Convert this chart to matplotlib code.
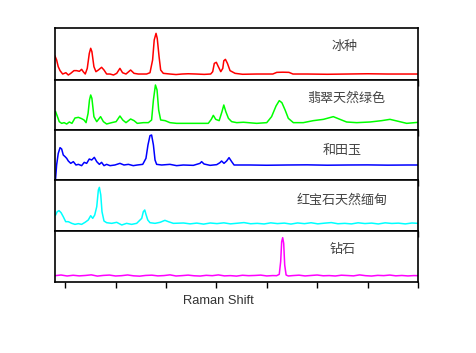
import matplotlib
matplotlib.use("Agg")
import matplotlib.pyplot as plt

plt.rcParams['font.family'] = ['Noto Sans CJK SC', 'DejaVu Sans']

# Raman spectra of five gem materials, wavenumber (cm^-1) vs. relative intensity
names = ["冰种", "翡翠天然绿色", "和田玉", "红宝石天然缅甸", "钻石"]
colors = ["#ff0000", "#00ff00", "#0000ff", "#00ffff", "#ff00ff"]

ice_x = [200, 208, 216, 225, 238, 254, 266, 278, 294, 307, 321, 332, 340, 350, 360,
         370, 377, 383, 393, 403, 415, 431, 443, 456, 473, 490, 506, 522, 535, 552,
         575, 592, 613, 654, 671, 684, 692, 701, 707, 716, 724, 737, 770, 800, 830,
         860, 900, 940, 972, 982, 990, 1000, 1010, 1022, 1032, 1037, 1045, 1055,
         1068, 1093, 1130, 1200, 1280, 1300, 1330, 1360, 1380, 1450, 1550, 1650,
         1750, 1850, 1950, 2000]
ice_y = [46, 38.5, 25.6, 18, 11.5, 14, 9.6, 12.8, 18, 18, 16.7, 20.5, 16, 11.5, 22.4,
         51, 61, 54.5, 25.6, 16, 19.2, 24.4, 19.2, 11.5, 11.5, 9.6, 12.8, 22.4, 14, 11.5,
         19.2, 12.8, 11.5, 11.5, 14, 38.5, 77, 89.7, 80, 45, 19.2, 12.8, 11.5, 10.5, 11.5,
         12, 11.5, 10.8, 11.5, 16, 32, 34, 25.6, 16, 22.4, 37, 39.7, 32, 18, 12.8, 11,
         11.5, 11.5, 14.7, 15, 14.7, 11.5, 11.5, 11, 11.5, 12, 11.5, 11.5, 11.5]

jade_x = [203, 211, 221, 233, 245, 258, 271, 284, 299, 316, 332, 344, 354, 364, 371,
          377, 383, 393, 407, 426, 440, 456, 481, 503, 522, 536, 552, 575, 592, 608,
          638, 663, 679, 688, 698, 706, 714, 724, 746, 770, 803, 860, 960, 975, 985,
          997, 1014, 1028, 1037, 1047, 1060, 1076, 1101, 1134, 1200, 1250, 1274, 1296,
          1312, 1325, 1341, 1357, 1382, 1431, 1481, 1531, 1580, 1613, 1646, 1696, 1762,
          1820, 1861, 1903, 1944, 2000]
jade_y = [36.7, 28, 16.7, 13.3, 14.7, 12, 16, 13.3, 24, 25.3, 22.7, 20, 14.7, 33.3, 60,
          70, 63.3, 26.7, 16.7, 26.7, 16.7, 12, 14.7, 16.7, 28, 20, 14.7, 22, 18.7, 13.3,
          14.7, 14.7, 20, 60, 90, 80, 40, 20, 18.7, 14.7, 13.3, 13.3, 13.3, 21.3, 29.3,
          21.3, 18.7, 36.7, 50, 36.7, 23.3, 16.7, 14.7, 15.5, 13.3, 14.7, 26.7, 48, 58.7,
          54.7, 40, 23.3, 14.7, 14.7, 18.7, 21.3, 26.7, 21.3, 16, 14.7, 16, 18.7, 21.3,
          17.3, 13.3, 15.3]

nephrite_x = [203, 208, 216, 225, 233, 241, 250, 258, 266, 278, 291, 304, 316, 332,
              345, 357, 370, 382, 395, 407, 420, 431, 443, 456, 473, 497, 522, 542, 564,
              588, 608, 635, 651, 661, 671, 679, 688, 696, 704, 729, 770, 803, 836, 886,
              919, 927, 939, 969, 1002, 1018, 1026, 1038, 1051, 1063, 1076, 1088, 1167,
              1250, 1350, 1450, 1550, 1650, 1750, 1850, 1950, 2000]
nephrite_y = [3.3, 30, 53, 64.7, 62, 50, 46.7, 43.3, 38, 33.3, 36.7, 30, 31.3, 28.7,
              35.3, 33.3, 42, 40, 45.3, 36.7, 31.3, 35.3, 28.7, 31.3, 28.7, 30, 33.3, 30,
              31.3, 28.7, 30, 31.3, 43.3, 70, 88.7, 90, 70, 40, 31.3, 30, 31.3, 28.7, 30,
              29.3, 33.3, 36.7, 32, 29.3, 30.7, 34.7, 38, 33.3, 38, 44.7, 36.7, 30, 30,
              29.5, 30, 30.3, 29.6, 30, 30.2, 29.7, 30, 30]

ruby_x = [203, 211, 220, 230, 241, 253, 266, 283, 299, 316, 332, 349, 365, 377, 387,
          397, 407, 415, 420, 427, 433, 443, 456, 481, 506, 531, 555, 580, 605, 630,
          638, 645, 651, 660, 671, 696, 721, 745, 762, 787, 837, 870, 903, 937, 970,
          1003, 1037, 1070, 1103, 1137, 1170, 1203, 1237, 1270, 1303, 1337, 1370, 1403,
          1437, 1470, 1503, 1537, 1570, 1603, 1637, 1670, 1703, 1737, 1770, 1803, 1837,
          1870, 1903, 1937, 1970, 2000]
ruby_y = [31.4, 37.9, 39.9, 36, 28, 18.3, 18.3, 15, 13, 14.4, 13, 17, 21.6, 30, 24.8,
          31.4, 47.7, 80.4, 85.6, 70.6, 37.9, 19.6, 16.3, 15, 17, 11.8, 15, 13, 15, 24.8,
          37.9, 41.2, 32.7, 21.6, 16.3, 15, 17, 20.9, 18.3, 15, 15.7, 14, 15.5, 13.5,
          15.7, 14.5, 16, 14, 15.2, 16.5, 14.2, 15, 13.8, 16, 14.5, 15.5, 13.6, 15.8,
          14.4, 16.2, 14, 15.4, 16.5, 14.2, 15, 13.9, 16.1, 14.6, 15.5, 13.8, 16, 14.8,
          15.4, 13.9, 15.7, 15]

diamond_x = [200, 230, 260, 290, 320, 350, 380, 410, 440, 470, 500, 530, 560, 590, 620,
             650, 680, 710, 740, 770, 800, 830, 860, 890, 920, 950, 980, 1010, 1040,
             1070, 1100, 1130, 1160, 1190, 1220, 1250, 1280, 1299, 1312, 1319, 1324,
             1329, 1334, 1339, 1346, 1357, 1380, 1410, 1440, 1470, 1500, 1530, 1560,
             1590, 1620, 1650, 1680, 1710, 1740, 1770, 1800, 1830, 1860, 1890, 1920,
             1950, 1980, 2000]
diamond_y = [12.4, 13.7, 11.8, 13.2, 12, 12.8, 14, 11.6, 12.9, 13.6, 11.8, 12.4, 13.8,
             12.1, 11.5, 12.9, 13.4, 12, 12.6, 14, 11.8, 12.5, 13.5, 12.2, 11.7, 13.1,
             12.4, 13.9, 12, 12.5, 11.6, 13.2, 12.4, 12.8, 13.5, 11.9, 12.6, 12.4, 15,
             39.9, 79, 86.9, 75.8, 33.3, 13.7, 11.8, 12.6, 13.4, 11.9, 12.8, 13.7, 12.2,
             12.6, 11.8, 13.3, 12.7, 12, 13.9, 12.4, 11.7, 13, 12.5, 13.6, 12.1, 12.8,
             11.9, 12.6, 12.4]

spectra = [(ice_x, ice_y), (jade_x, jade_y), (nephrite_x, nephrite_y),
           (ruby_x, ruby_y), (diamond_x, diamond_y)]
label_y = [0.65, 0.64, 0.60, 0.61, 0.63]
label_x = [0.797, 0.801, 0.791, 0.791, 0.793]

x_ticks = [250, 500, 750, 1000, 1250, 1500, 1750, 2000]

W, H = 476, 353
fig = plt.figure(figsize=(W / 100, H / 100), dpi=100)
edges = [28, 80, 130, 180, 231, 282]
left, right = 55, 418

for i, ((xs, ys), name, c) in enumerate(zip(spectra, names, colors)):
    top, bot = edges[i], edges[i + 1]
    ax = fig.add_axes([left / W, 1 - bot / H, (right - left) / W, (bot - top) / H])
    ax.plot(xs, ys, color=c, lw=1.1)
    ax.set_xlim(200, 2000)
    ax.set_ylim(0, 100)
    ax.set_xticks(x_ticks)
    ax.set_xticklabels([])
    ax.set_yticks([])
    ax.tick_params(axis='x', direction='out', length=4, width=1, color='black')
    for s in ax.spines.values():
        s.set_linewidth(1.2)
    ax.text(label_x[i], label_y[i], name, transform=ax.transAxes, ha='center',
            va='center', fontsize=9.4, color='#444444')

fig.text(218 / W, 1 - 301 / H, "Raman Shift", ha='center', va='center',
         fontsize=9.3, color='#333333', family=['Liberation Sans', 'DejaVu Sans'])

fig.savefig("out.png", dpi=100)
